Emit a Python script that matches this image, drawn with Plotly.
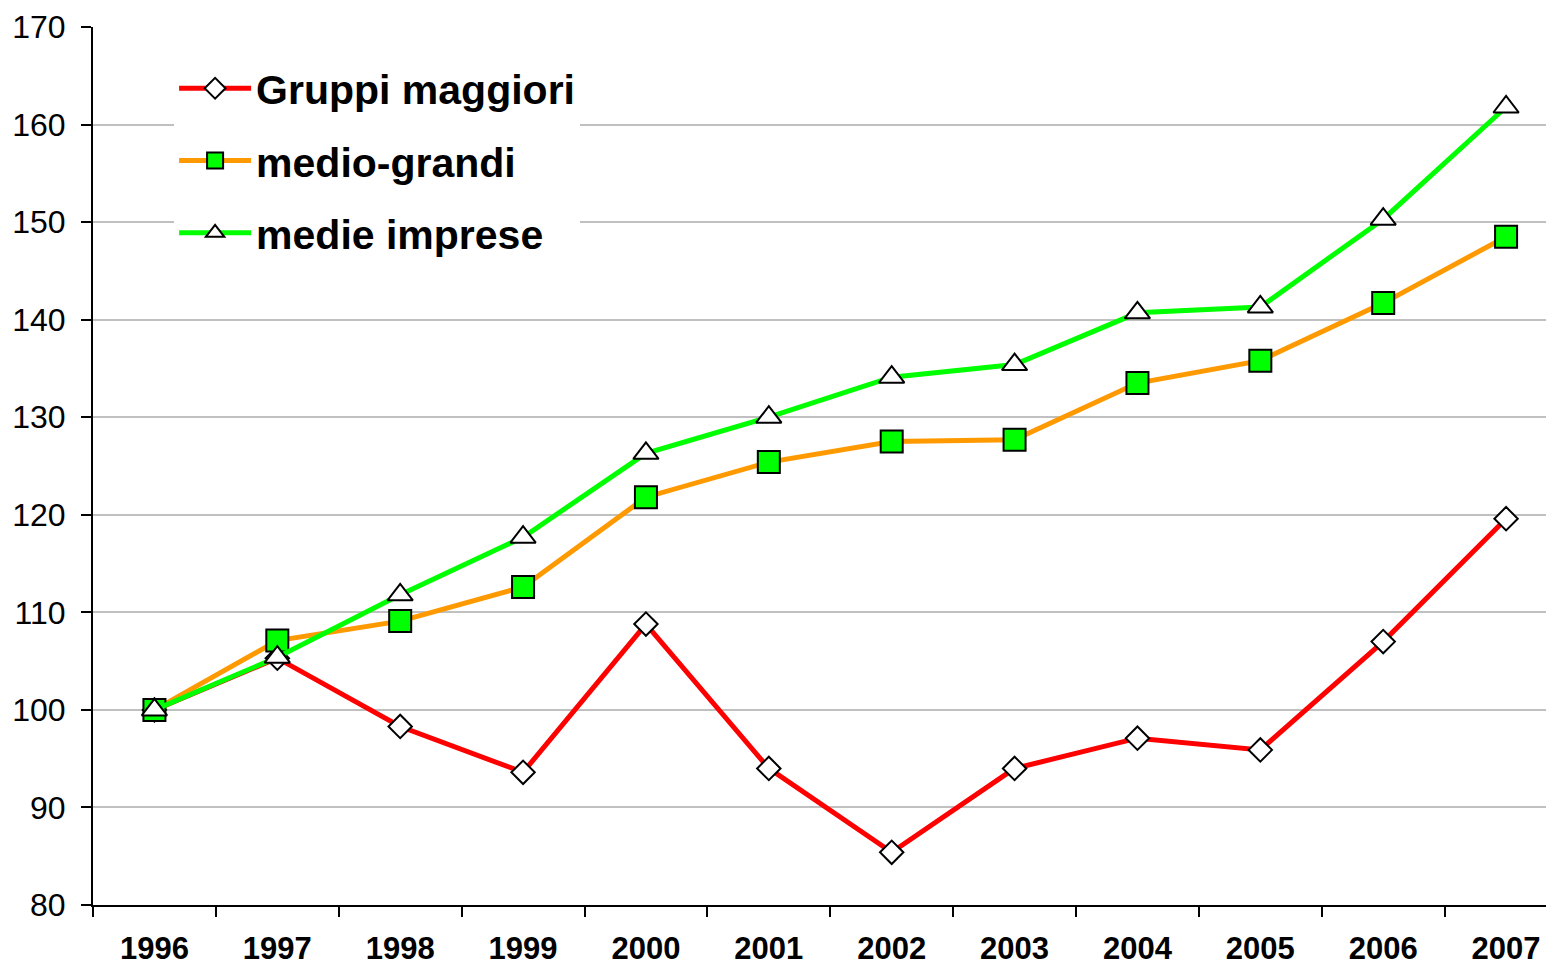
import plotly.graph_objects as go

# years on the x axis
years = ["1996", "1997", "1998", "1999", "2000", "2001",
         "2002", "2003", "2004", "2005", "2006", "2007"]

# index values, 1996 = 100
gruppi_maggiori = [100, 105.3, 98.3, 93.6, 108.8, 94.0, 85.4, 94.0, 97.1, 95.9, 107.0, 119.6]
medio_grandi = [100, 107.1, 109.1, 112.6, 121.8, 125.4, 127.5, 127.7, 133.5, 135.8, 141.7, 148.5]
medie_imprese = [100, 105.4, 111.8, 117.7, 126.3, 130.0, 134.1, 135.4, 140.7, 141.3, 150.3, 161.8]

y_ticks = [80, 90, 100, 110, 120, 130, 140, 150, 160, 170]

FONT = "Liberation Sans, Arial, sans-serif"

fig = go.Figure()

fig.add_trace(go.Scatter(
    x=years, y=gruppi_maggiori, name="Gruppi maggiori", mode="lines+markers",
    line=dict(color="#ff0000", width=5),
    marker=dict(symbol="diamond", size=18, color="white", line=dict(color="black", width=2)),
    legendgroup="a"))

fig.add_trace(go.Scatter(
    x=years, y=medio_grandi, name="medio-grandi", mode="lines+markers",
    line=dict(color="#ff9900", width=5),
    marker=dict(symbol="square", size=22, color="#00ff00", line=dict(color="black", width=2)),
    legendgroup="b"))

fig.add_trace(go.Scatter(
    x=years, y=medie_imprese, name="medie imprese", mode="lines+markers",
    line=dict(color="#00ff00", width=5),
    marker=dict(symbol="triangle-up", size=22, color="white", line=dict(color="black", width=2)),
    legendgroup="c"))

# the page adds ~8px around the figure, so the figure is a bit smaller than the window
fig.update_layout(
    width=1546, height=959,
    margin=dict(l=85, r=0, t=19, b=62),
    plot_bgcolor="white", paper_bgcolor="white",
    font=dict(family=FONT, color="black"),
    legend=dict(
        x=0.0555, y=0.968, xanchor="left", yanchor="top",
        bgcolor="white", borderwidth=0,
        font=dict(size=41, family=FONT, weight="bold"),
        itemwidth=72, tracegroupgap=16, itemsizing="trace"),
    showlegend=True,
)

fig.update_xaxes(
    type="category", range=[-0.5, 11.39], automargin=False,
    tickson="boundaries", ticks="outside", ticklen=10, tickwidth=2, tickcolor="black",
    showline=True, linecolor="black", linewidth=2, showgrid=False,
    tickfont=dict(size=31, family=FONT, weight="bold"),
    ticklabelstandoff=15)

fig.update_yaxes(
    range=[80, 170], tickvals=y_ticks, automargin=False,
    ticks="outside", ticklen=10, tickwidth=2, tickcolor="black",
    showline=True, linecolor="black", linewidth=2,
    showgrid=True, gridcolor="#c0c0c0", gridwidth=2,
    zeroline=False,
    tickfont=dict(size=32, family=FONT),
    ticklabelstandoff=9)

fig.write_html("out.html")
